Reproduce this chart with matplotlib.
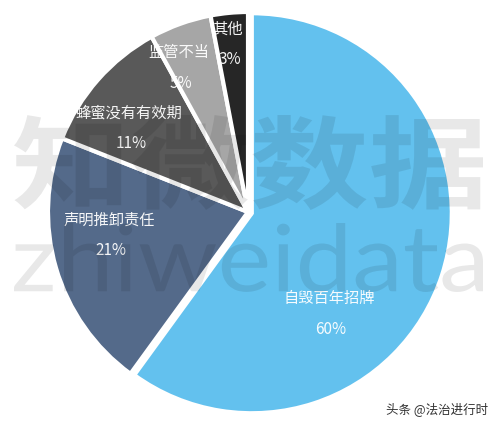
import matplotlib
matplotlib.use("Agg")
import matplotlib.pyplot as plt
from matplotlib.textpath import TextPath
from matplotlib.patches import PathPatch
from matplotlib.font_manager import FontProperties
from matplotlib.transforms import Affine2D, IdentityTransform

plt.rcParams['font.family'] = ['Noto Sans CJK SC', 'DejaVu Sans']

categories = ['自毁百年招牌', '声明推卸责任', '蜂蜜没有有效期', '监管不当', '其他']
values = [60, 21, 11, 5, 3]
pct_labels = ['60%', '21%', '11%', '5%', '3%']
colors = ['#63C1EE', '#546A8A', '#595959', '#A6A6A6', '#262626']

# label centres (fraction of radius) for the name line
label_pos = [(0.405, -0.43), (-0.695, -0.04), (-0.595, 0.495), (-0.345, 0.795), (-0.10, 0.915)]

W, H = 500, 426
CX, CY, R = 248, 212, 200

fig = plt.figure(figsize=(W / 100, H / 100), dpi=100)
ax = fig.add_axes([0, 0, 1, 1])

wedges, _ = ax.pie(values, colors=colors, startangle=90, counterclock=False,
                   radius=1.0, explode=[0.02, 0, 0, 0, 0],
                   wedgeprops=dict(edgecolor='white', linewidth=3))
ax.set_xlim(-CX / R, (W - CX) / R)
ax.set_ylim(-(H - CY) / R, CY / R)
ax.set_aspect('equal')
ax.axis('off')

for (x, y), name, pct in zip(label_pos, categories, pct_labels):
    ax.text(x, y, name, color='white', fontsize=11, ha='center', va='center',
            fontweight='light', alpha=0.95)
    ax.text(x + 0.01, y - 0.155, pct, color='white', fontsize=11, ha='center',
            va='center', fontweight='light', alpha=0.95)


def watermark(text, prop, x0, x1, ytop, ybot):
    tp = TextPath((0, 0), text, size=100, prop=prop)
    bb = tp.get_extents()
    tr = (Affine2D().translate(-bb.x0, -bb.y0)
          .scale((x1 - x0) / bb.width, (ybot - ytop) / bb.height)
          .translate(x0, H - ybot))
    patch = PathPatch(tr.transform_path(tp), transform=IdentityTransform(),
                      facecolor='black', edgecolor='none', alpha=0.09, zorder=10)
    fig.add_artist(patch)


watermark('知微数据', FontProperties(family='Noto Sans CJK SC', weight='bold'), 14, 483, 115, 210)
watermark('zhiweidata', FontProperties(family='Lato', weight='normal'), 14, 483, 223, 292)

fig.text(0.976, 0.04, '头条 @法治进行时', color='#333333', fontsize=9,
         ha='right', va='center')

fig.savefig('out.png', dpi=100, facecolor='white')
